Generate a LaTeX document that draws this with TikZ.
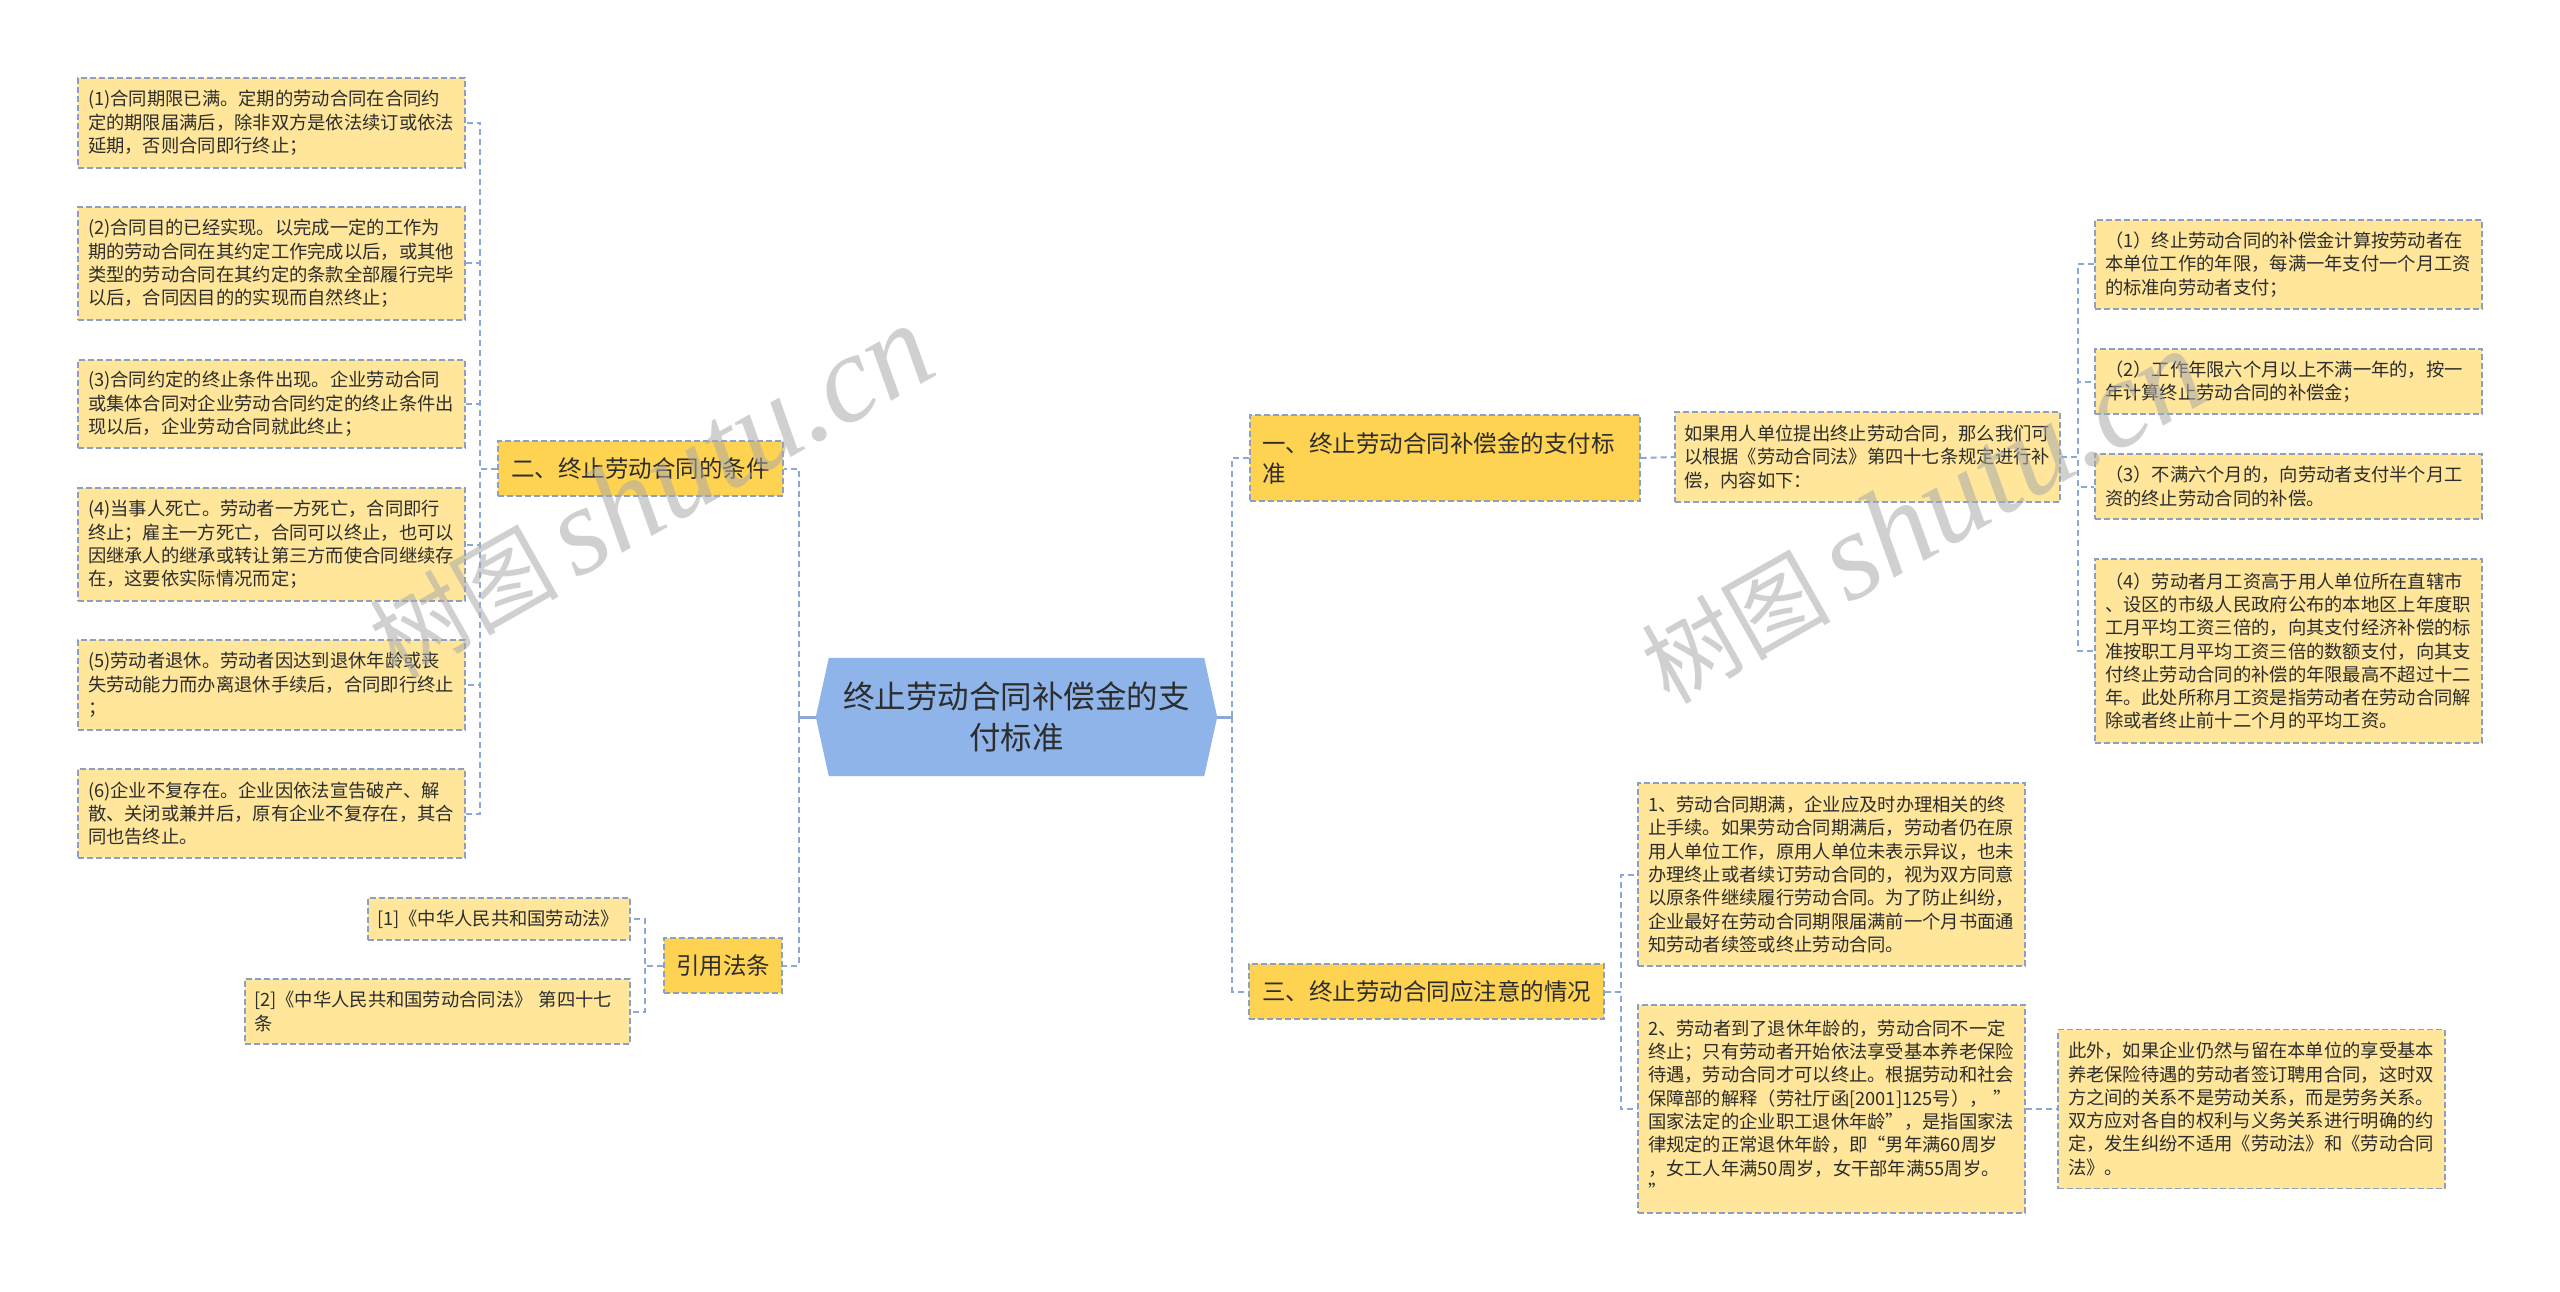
\documentclass[tikz,border=0pt]{standalone}
\usepackage{fontspec}
\setmainfont{Noto Sans CJK SC}
\newfontfamily\wmserif{Liberation Serif}
\definecolor{leaffill}{RGB}{255,230,155}
\definecolor{mainfill}{RGB}{255,211,82}
\definecolor{centfill}{RGB}{142,180,234}
\definecolor{bordc}{RGB}{140,160,195}
\definecolor{connc}{RGB}{140,168,215}
\definecolor{txt}{RGB}{45,45,45}
\definecolor{wmgray}{RGB}{170,170,170}
\tikzset{
  leaf/.style={draw=bordc, dash pattern=on 6pt off 3pt, line width=1.3pt, fill=leaffill,
    inner sep=0pt, align=left, text=txt, font=\fontsize{18.3}{23.3}\selectfont},
  mainnode/.style={draw=bordc, dash pattern=on 6pt off 3pt, line width=1.3pt, fill=mainfill,
    inner sep=0pt, align=center, text=txt, font=\fontsize{23.5}{30}\selectfont},
  conn/.style={draw=connc, line width=2pt, dash pattern=on 6pt off 4pt},
  connsolid/.style={draw=connc, line width=3pt},
  wmark/.style={text=wmgray, opacity=0.55, inner sep=0pt}
}
\begin{document}
\begin{tikzpicture}[x=1pt,y=-1pt]
\useasboundingbox (0,0) rectangle (2560,1292);
\fill[white] (0,0) rectangle (2560,1292);

% center
\node[inner sep=0pt, minimum width=401pt, minimum height=118pt] (c) at (1016.5,717) {};
\fill[centfill] ([xshift=13pt]c.north west) -- ([xshift=-13pt]c.north east) -- (c.east)
  -- ([xshift=-13pt]c.south east) -- ([xshift=13pt]c.south west) -- (c.west) -- cycle;
\node[align=center, text=txt, font=\fontsize{31.5}{41}\selectfont] (ct) at (c.center) {终止劳动合同补偿金的支\\付标准};

% left main nodes
\node[mainnode, minimum width=285pt, minimum height=55pt] (n2) at (640.5,468.5) {二、终止劳动合同的条件};
\node[mainnode, minimum width=118pt, minimum height=55pt] (ny) at (723,965.5) {引用法条};

% left leaves
\node[leaf, minimum width=387pt, minimum height=90pt, text width=367pt] (l1) at (271.5,123) {(1)合同期限已满。定期的劳动合同在合同约\\定的期限届满后，除非双方是依法续订或依法\\延期，否则合同即行终止；};
\node[leaf, minimum width=387pt, minimum height=113pt, text width=367pt] (l2) at (271.5,263.5) {(2)合同目的已经实现。以完成一定的工作为\\期的劳动合同在其约定工作完成以后，或其他\\类型的劳动合同在其约定的条款全部履行完毕\\以后，合同因目的的实现而自然终止；};
\node[leaf, minimum width=387pt, minimum height=88pt, text width=367pt] (l3) at (271.5,404) {(3)合同约定的终止条件出现。企业劳动合同\\或集体合同对企业劳动合同约定的终止条件出\\现以后，企业劳动合同就此终止；};
\node[leaf, minimum width=387pt, minimum height=113pt, text width=367pt] (l4) at (271.5,544.5) {(4)当事人死亡。劳动者一方死亡，合同即行\\终止；雇主一方死亡，合同可以终止，也可以\\因继承人的继承或转让第三方而使合同继续存\\在，这要依实际情况而定；};
\node[leaf, minimum width=387pt, minimum height=90pt, text width=367pt] (l5) at (271.5,685) {(5)劳动者退休。劳动者因达到退休年龄或丧\\失劳动能力而办离退休手续后，合同即行终止\\；};
\node[leaf, minimum width=387pt, minimum height=89pt, text width=367pt] (l6) at (271.5,813.5) {(6)企业不复存在。企业因依法宣告破产、解\\散、关闭或兼并后，原有企业不复存在，其合\\同也告终止。};

\node[leaf, minimum width=262pt, minimum height=42pt, text width=244pt] (r1) at (499,919) {[1]《中华人民共和国劳动法》};
\node[leaf, minimum width=385pt, minimum height=65pt, text width=367pt] (r2) at (437.5,1011.5) {[2]《中华人民共和国劳动合同法》~第四十七\\条};

% right main nodes
\node[mainnode, align=left, minimum width=390pt, minimum height=86pt, text width=366pt] (n1) at (1445,458) {一、终止劳动合同补偿金的支付标\\准};
\node[mainnode, minimum width=355pt, minimum height=55pt] (n3) at (1426.5,991.5) {三、终止劳动合同应注意的情况};

% right leaves
\node[leaf, minimum width=385pt, minimum height=90pt, text width=367pt] (a0) at (1867.5,457) {如果用人单位提出终止劳动合同，那么我们可\\以根据《劳动合同法》第四十七条规定进行补\\偿，内容如下：};
\node[leaf, minimum width=387pt, minimum height=89pt, text width=367pt] (a1) at (2288.5,264.5) {（1）终止劳动合同的补偿金计算按劳动者在\\本单位工作的年限，每满一年支付一个月工资\\的标准向劳动者支付；};
\node[leaf, minimum width=387pt, minimum height=65pt, text width=367pt] (a2) at (2288.5,381.5) {（2）工作年限六个月以上不满一年的，按一\\年计算终止劳动合同的补偿金；};
\node[leaf, minimum width=387pt, minimum height=65pt, text width=367pt] (a3) at (2288.5,486.5) {（3）不满六个月的，向劳动者支付半个月工\\资的终止劳动合同的补偿。};
\node[leaf, minimum width=387pt, minimum height=184pt, text width=367pt] (a4) at (2288.5,651) {（4）劳动者月工资高于用人单位所在直辖市\\、设区的市级人民政府公布的本地区上年度职\\工月平均工资三倍的，向其支付经济补偿的标\\准按职工月平均工资三倍的数额支付，向其支\\付终止劳动合同的补偿的年限最高不超过十二\\年。此处所称月工资是指劳动者在劳动合同解\\除或者终止前十二个月的平均工资。};

\node[leaf, minimum width=387pt, minimum height=183pt, text width=367pt] (b1) at (1831.5,874.5) {1、劳动合同期满，企业应及时办理相关的终\\止手续。如果劳动合同期满后，劳动者仍在原\\用人单位工作，原用人单位未表示异议，也未\\办理终止或者续订劳动合同的，视为双方同意\\以原条件继续履行劳动合同。为了防止纠纷，\\企业最好在劳动合同期限届满前一个月书面通\\知劳动者续签或终止劳动合同。};
\node[leaf, minimum width=387pt, minimum height=208pt, text width=367pt] (b2) at (1831.5,1109) {2、劳动者到了退休年龄的，劳动合同不一定\\终止；只有劳动者开始依法享受基本养老保险\\待遇，劳动合同才可以终止。根据劳动和社会\\保障部的解释（劳社厅函[2001]125号），~”\\国家法定的企业职工退休年龄”，是指国家法\\律规定的正常退休年龄，即“男年满60周岁\\，女工人年满50周岁，女干部年满55周岁。\\”};
\node[leaf, minimum width=387pt, minimum height=159pt, text width=367pt] (b3) at (2251.5,1109) {此外，如果企业仍然与留在本单位的享受基本\\养老保险待遇的劳动者签订聘用合同，这时双\\方之间的关系不是劳动关系，而是劳务关系。\\双方应对各自的权利与义务关系进行明确的约\\定，发生纠纷不适用《劳动法》和《劳动合同\\法》。};

% connectors
\draw[connsolid] (c.west) -- ++(-17,0) coordinate (cw);
\draw[conn] (cw) |- (n2.east);
\draw[conn] (cw) |- (ny.east);
\draw[connsolid] (c.east) -- ++(15,0) coordinate (ce);
\draw[conn] (ce) |- (n1.west);
\draw[conn] (ce) |- (n3.west);

\foreach \k in {l1,l2,l3,l4,l5,l6}{\draw[conn] (n2.west) -- ++(-17,0) |- (\k.east);}
\foreach \k in {r1,r2}{\draw[conn] (ny.west) -- ++(-18,0) |- (\k.east);}
\draw[conn] (n1.east) -- (a0.west);
\foreach \k in {a1,a2,a3,a4}{\draw[conn] (a0.east) -- ++(17,0) |- (\k.west);}
\foreach \k in {b1,b2}{\draw[conn] (n3.east) -- ++(16,0) |- (\k.west);}
\draw[conn] (b2.east) -- (b3.west);

% watermarks
\node[wmark, rotate=29.5] (wm1) at (650,492) {\fontsize{95}{95}\selectfont 树图\,{\wmserif\itshape\fontsize{125}{125}\selectfont shutu.cn}};
\node[wmark, rotate=29.5] (wm2) at (1922,517) {\fontsize{95}{95}\selectfont 树图\,{\wmserif\itshape\fontsize{125}{125}\selectfont shutu.cn}};
\end{tikzpicture}
\end{document}
